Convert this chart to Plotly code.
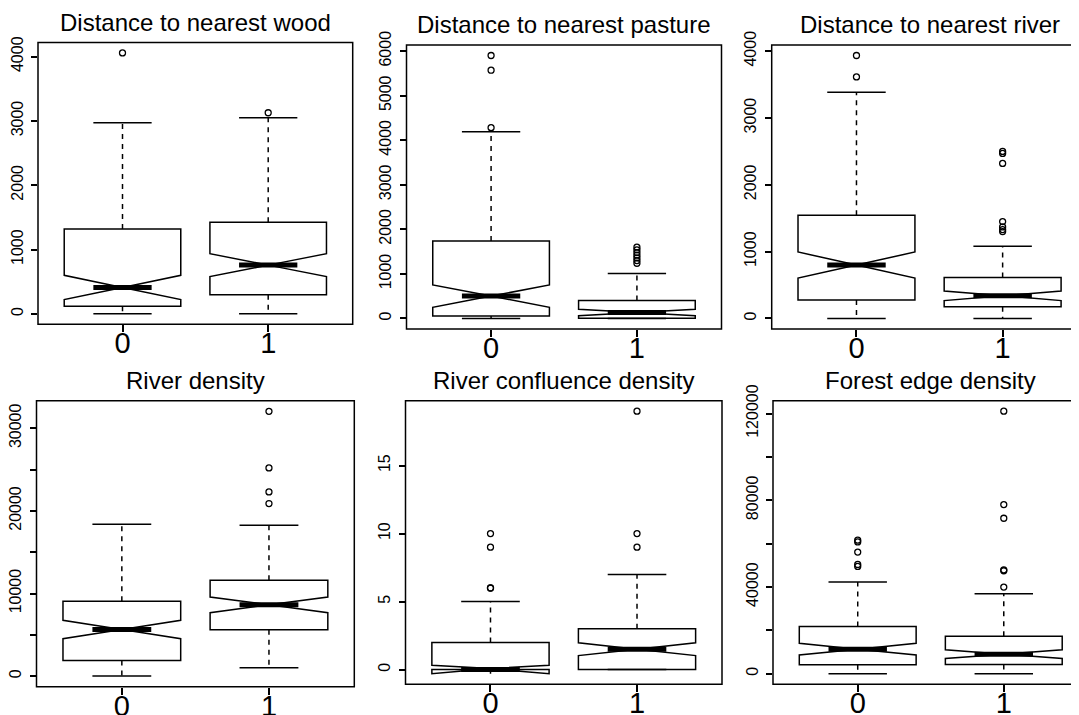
import plotly.graph_objects as go

W, H = 1079, 715
OFF = 8  # page body margin in the browser
FONT = "Liberation Sans, Arial, Helvetica, sans-serif"

categories = ["0", "1"]

titles = ["Distance to nearest wood", "Distance to nearest pasture", "Distance to nearest river",
          "River density", "River confluence density", "Forest edge density"]

# ---- Distance to nearest wood
wood_q1 = [120, 296]
wood_median = [411, 758]
wood_q3 = [1318, 1423]
wood_notch = [189, 177]
wood_low = [0, 0]
wood_up = [2973, 3051]
wood_out0 = [4058]
wood_out1 = [3128]
wood_ticks = [0, 1000, 2000, 3000, 4000]
wood_labels = ["0", "1000", "2000", "3000", "4000"]

# ---- Distance to nearest pasture
past_q1 = [58, 8]
past_median = [502, 135]
past_q3 = [1739, 405]
past_notch = [250, 72]
past_low = [0, 0]
past_up = [4192, 1012]
past_out0 = [4282, 5572, 5902]
past_out1 = [1240, 1300, 1360, 1420, 1480, 1540, 1600]
past_ticks = [0, 1000, 2000, 3000, 4000, 5000, 6000]
past_labels = ["0", "1000", "2000", "3000", "4000", "5000", "6000"]

# ---- Distance to nearest river
river_q1 = [275, 175]
river_median = [800, 340]
river_q3 = [1545, 615]
river_notch = [195, 72]
river_low = [0, 0]
river_up = [3385, 1080]
river_out0 = [3615, 3935]
river_out1 = [1300, 1330, 1370, 1450, 2320, 2470, 2500]
river_ticks = [0, 1000, 2000, 3000, 4000]
river_labels = ["0", "1000", "2000", "3000", "4000"]

# ---- River density
rdens_q1 = [1900, 5605]
rdens_median = [5645, 8629]
rdens_q3 = [9073, 11613]
rdens_notch = [1109, 948]
rdens_low = [0, 1008]
rdens_up = [18387, 18266]
rdens_out0 = []
rdens_out1 = [20890, 22300, 25200, 32056]
rdens_ticks = [0, 5000, 10000, 15000, 20000, 25000, 30000]
rdens_labels = ["0", "", "10000", "", "20000", "", "30000"]

# ---- River confluence density
conf_q1 = [0, 0]
conf_median = [0, 1.5]
conf_q3 = [2, 3]
conf_notch = [0.31, 0.47]
conf_low = [0, 0]
conf_up = [5, 7]
conf_out0 = [6, 6, 9, 10]
conf_out1 = [9, 10, 19]
conf_ticks = [0, 5, 10, 15]
conf_labels = ["0", "5", "10", "15"]

# ---- Forest edge density
fedge_q1 = [4154, 4300]
fedge_median = [11354, 9050]
fedge_q3 = [21830, 17360]
fedge_notch = [2690, 2000]
fedge_low = [0, 0]
fedge_up = [42277, 36923]
fedge_out0 = [49500, 50400, 56100, 60800, 61600]
fedge_out1 = [39980, 47500, 47900, 71700, 78000, 121060]
fedge_ticks = [0, 20000, 40000, 60000, 80000, 100000, 120000]
fedge_labels = ["0", "", "40000", "", "80000", "", "120000"]

panels = [
    (wood_q1, wood_median, wood_q3, wood_notch, wood_low, wood_up, [wood_out0, wood_out1], wood_ticks, wood_labels),
    (past_q1, past_median, past_q3, past_notch, past_low, past_up, [past_out0, past_out1], past_ticks, past_labels),
    (river_q1, river_median, river_q3, river_notch, river_low, river_up, [river_out0, river_out1], river_ticks, river_labels),
    (rdens_q1, rdens_median, rdens_q3, rdens_notch, rdens_low, rdens_up, [rdens_out0, rdens_out1], rdens_ticks, rdens_labels),
    (conf_q1, conf_median, conf_q3, conf_notch, conf_low, conf_up, [conf_out0, conf_out1], conf_ticks, conf_labels),
    (fedge_q1, fedge_median, fedge_q3, fedge_notch, fedge_low, fedge_up, [fedge_out0, fedge_out1], fedge_ticks, fedge_labels),
]

# plot-box pixel extents on screen (left, right, top, bottom); right panels run off the canvas
panel_px = [(38, 352.7, 42.5, 324.3), (406.5, 721.5, 45, 329), (771.7, 1087.4, 45, 329),
            (36.5, 354.3, 400.7, 686.7), (405.5, 722.0, 400.7, 684.3), (773.0, 1088.5, 400.7, 684.3)]

BOXW = 0.8
XR0, XR1 = 0.42, 2.58
LW = 1.5
VIS_W = W - OFF  # visible figure width after the body margin

fig = go.Figure()
layout = dict(template="none", width=W, height=H, margin=dict(l=0, r=0, t=0, b=0, pad=0), autosize=False,
              plot_bgcolor="white", paper_bgcolor="white", showlegend=False,
              font=dict(family=FONT, color="black"))
shapes, annotations = [], []

for i, (q1, med, q3, notch, low, up, outs, ticks, labels) in enumerate(panels):
    n = "" if i == 0 else str(i + 1)
    xa, ya = "x" + n, "y" + n
    sx0, sx1, sy0, sy1 = panel_px[i]
    x0p, x1p, y0p, y1p = sx0 - OFF, sx1 - OFF, sy0 - OFF, sy1 - OFF
    x1c = min(x1p, VIS_W)
    frac = (x1p - x0p) / (x1c - x0p)
    xr1 = XR0 + (XR1 - XR0) * (x1c - x0p) / (x1p - x0p)
    pos = [k + 1 for k in range(len(categories))]

    fig.add_trace(go.Box(x=pos, q1=q1, median=med, q3=q3, notchspan=notch,
                         notched=True, notchwidth=0.5, width=BOXW, whiskerwidth=0,
                         boxpoints=False, fillcolor="white",
                         line=dict(color="black", width=LW), xaxis=xa, yaxis=ya,
                         hoverinfo="skip"))
    for k, p in enumerate(pos):
        # dashed whiskers
        for a, b in ((q3[k], up[k]), (q1[k], low[k])):
            fig.add_trace(go.Scatter(x=[p, p], y=[a, b], mode="lines",
                                     line=dict(color="black", width=LW, dash="5px,5px"),
                                     xaxis=xa, yaxis=ya, hoverinfo="skip"))
        # staples
        for v in (up[k], low[k]):
            fig.add_trace(go.Scatter(x=[p - BOXW / 4, p + BOXW / 4], y=[v, v], mode="lines",
                                     line=dict(color="black", width=LW),
                                     xaxis=xa, yaxis=ya, hoverinfo="skip"))
        # thick median
        fig.add_trace(go.Scatter(x=[p - BOXW / 4, p + BOXW / 4], y=[med[k], med[k]], mode="lines",
                                 line=dict(color="black", width=5),
                                 xaxis=xa, yaxis=ya, hoverinfo="skip"))
        # outliers
        if outs[k]:
            fig.add_trace(go.Scatter(x=[p] * len(outs[k]), y=outs[k], mode="markers",
                                     marker=dict(symbol="circle-open", size=6, color="black",
                                                 line=dict(width=1.3)),
                                     xaxis=xa, yaxis=ya, hoverinfo="skip"))

    allv = low + up + q3 + q1 + [m - s for m, s in zip(med, notch)] + [m + s for m, s in zip(med, notch)] + outs[0] + outs[1]
    lo, hi = min(allv), max(allv)
    ext = 0.04 * (hi - lo)

    layout["xaxis" + n] = dict(domain=[x0p / W, x1c / W], range=[XR0, xr1], anchor=ya, automargin=False,
                               tickvals=pos, ticktext=categories, ticks="outside", ticklen=7,
                               tickwidth=LW, tickcolor="black", showgrid=False, zeroline=False,
                               showline=False, tickfont=dict(size=29, family=FONT, color="black"),
                               ticklabelstandoff=-14)
    layout["yaxis" + n] = dict(domain=[1 - y1p / H, 1 - y0p / H], range=[lo - ext, hi + ext], anchor=xa,
                               automargin=False,
                               tickvals=ticks, ticktext=labels, ticks="outside", ticklen=6,
                               tickwidth=LW, tickcolor="black", showgrid=False, zeroline=False,
                               showline=False, tickangle=-90, ticklabelstandoff=2,
                               tickfont=dict(size=16, family=FONT, color="black"))
    shapes.append(dict(type="rect", xref=xa + " domain", yref=ya + " domain", x0=0, x1=frac, y0=0, y1=1,
                       line=dict(color="black", width=LW), fillcolor="rgba(0,0,0,0)", layer="above"))
    annotations.append(dict(text=titles[i], xref=xa + " domain", yref=ya + " domain", x=0.5 * frac, y=1,
                            xanchor="center", yanchor="bottom", yshift=5, showarrow=False,
                            font=dict(size=24, family=FONT, color="black")))

layout["shapes"] = shapes
layout["annotations"] = annotations
fig.update_layout(**layout)
fig.write_html("out.html")
